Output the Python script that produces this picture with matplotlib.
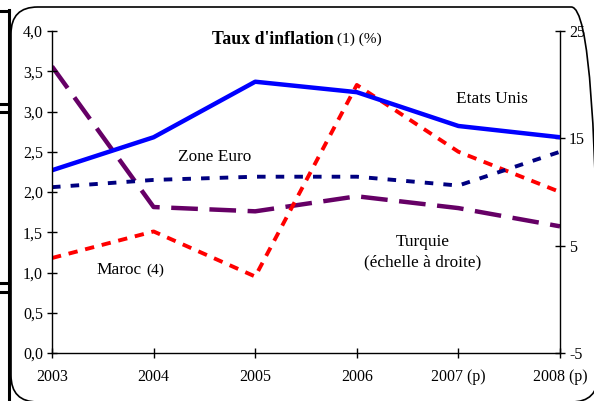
import matplotlib
matplotlib.use("Agg")
import matplotlib.pyplot as plt
from matplotlib.patches import FancyBboxPatch
from matplotlib.lines import Line2D

plt.rcParams['font.family'] = ['Liberation Serif', 'DejaVu Serif']

# data
years = ['2003', '2004', '2005', '2006', '2007 (p)', '2008 (p)']
etats_unis = [2.27, 2.68, 3.37, 3.24, 2.82, 2.68]
zone_euro = [2.06, 2.15, 2.19, 2.19, 2.08, 2.50]
maroc = [1.18, 1.51, 0.95, 3.33, 2.50, 2.00]
turquie = [21.7, 8.6, 8.2, 9.6, 8.5, 6.8]   # right scale

left_ticks = [0.0, 0.5, 1.0, 1.5, 2.0, 2.5, 3.0, 3.5, 4.0]
right_ticks = [-5, 5, 15, 25]

W, H = 594, 401
fig = plt.figure(figsize=(W / 100, H / 100), dpi=100)


def fx(px):
    return px / W


def fy(py):
    return 1 - py / H


# page frame bits around the chart
fig.patches.append(FancyBboxPatch((fx(11), fy(402)), fx(598) - fx(11), fy(7) - fy(402),
                                  boxstyle="round,pad=0,rounding_size=0.045",
                                  transform=fig.transFigure, fill=False,
                                  edgecolor='black', lw=1.2, mutation_aspect=W / H))
for l in [Line2D([fx(8.5), fx(8.5)], [fy(10), fy(401)], lw=2.2, color='black'),
          Line2D([fx(0), fx(8.5)], [fy(11), fy(11)], lw=2.2, color='black'),
          Line2D([fx(0), fx(8.5)], [fy(104), fy(104)], lw=2.2, color='black'),
          Line2D([fx(0), fx(8.5)], [fy(112), fy(112)], lw=2.2, color='black'),
          Line2D([fx(0), fx(8.5)], [fy(283), fy(283)], lw=2.2, color='black'),
          Line2D([fx(0), fx(8.5)], [fy(292), fy(292)], lw=2.2, color='black')]:
    l.set_transform(fig.transFigure)
    fig.lines.append(l)

ax = fig.add_axes([fx(52), fy(353), fx(560) - fx(52), fy(31) - fy(353)])
ax2 = ax.twinx()
ax.set_zorder(ax2.get_zorder() + 1)
ax.patch.set_visible(False)

x = list(range(len(years)))
ax2.plot(x, turquie, color='#660066', lw=3.2, dashes=(6, 2.6), solid_capstyle='butt')
ax.plot(x, maroc, color='#ff0000', lw=2.8, dashes=(2.4, 2.0))
ax.plot(x, zone_euro, color='#000080', lw=2.8, dashes=(2.2, 2.6))
ax.plot(x, etats_unis, color='#0000ff', lw=3.2)

ax.set_xlim(0, 5)
ax.set_ylim(0, 4)
ax2.set_ylim(-5, 25)
ax.set_xticks(x)
ax.set_xticklabels(years)
ax.set_yticks(left_ticks)
ax.set_yticklabels([f"{v:.1f}".replace('.', ',') for v in left_ticks])
ax2.set_yticks(right_ticks)
ax2.set_yticklabels([str(v) for v in right_ticks])

for a in (ax, ax2):
    a.spines['top'].set_visible(False)
    for s in a.spines.values():
        s.set_linewidth(1.0)
ax.spines['right'].set_visible(False)
ax2.spines['left'].set_visible(False)
ax2.spines['bottom'].set_visible(False)
ax.tick_params(axis='both', direction='inout', length=7, width=1, labelsize=11.5, pad=3)
ax.tick_params(axis='x', pad=8)
ax2.tick_params(axis='y', direction='inout', length=7, width=1, labelsize=11.5, pad=3)

ax.text(2.77, 3.9, "Taux d'inflation", ha='right', va='center', fontsize=12.8, fontweight='bold')
ax.text(2.81, 3.9, "(1) (%)", ha='left', va='center', fontsize=11)
ax.text(1.6, 2.43, "Zone Euro", ha='center', va='center', fontsize=12.4)
ax.text(4.33, 3.16, "Etats Unis", ha='center', va='center', fontsize=12.4)
ax.text(0.44, 1.03, "Maroc", ha='left', va='center', fontsize=12.4)
ax.text(0.925, 1.03, "(4)", ha='left', va='center', fontsize=11)
ax.text(3.65, 1.38, "Turquie", ha='center', va='center', fontsize=12.4)
ax.text(3.65, 1.12, "(échelle à droite)", ha='center', va='center', fontsize=12.4)

fig.savefig("out.png", dpi=100)
